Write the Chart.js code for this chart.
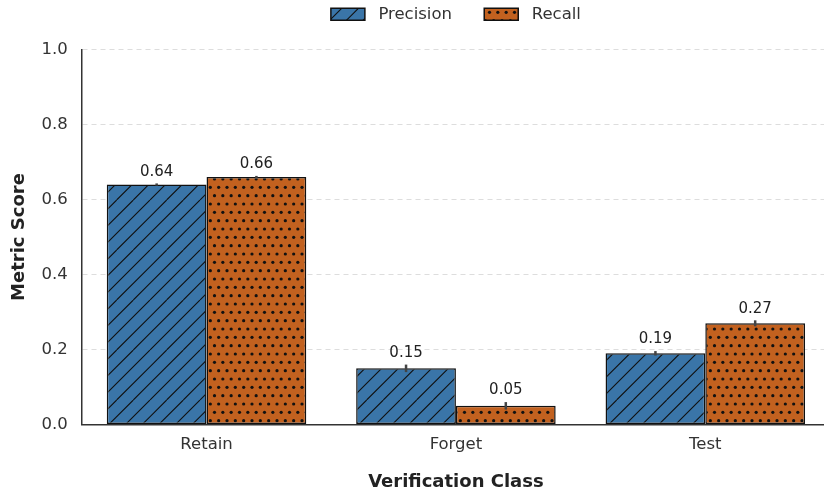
<!DOCTYPE html>
<html>
<head>
<meta charset="utf-8">
<script src="https://cdn.jsdelivr.net/npm/chart.js@4"></script>
<style>
  body { margin: 0; background: #fff; overflow: hidden; }
  #wrap { width: 824px; height: 493px; overflow: hidden; }
</style>
</head>
<body>
<div id="wrap"><canvas id="myChart" width="830" height="493"></canvas></div>
<script>
const categories = ['Retain', 'Forget', 'Test']
const precision = [0.64, 0.15, 0.19]
const recall = [0.66, 0.05, 0.27]
const precisionErr = [0.003, 0.01, 0.006]
const recallErr = [0.003, 0.01, 0.008]
const yTicks = [0, 0.2, 0.4, 0.6, 0.8, 1.0]

const font = "'DejaVu Sans', sans-serif"

// hatch patterns, like matplotlib '/' and '..'
function hatchLines(color) {
    const c = document.createElement('canvas')
    c.width = 50
    c.height = 50
    const ctx = c.getContext('2d')
    ctx.fillStyle = color
    ctx.fillRect(0, 0, 50, 50)
    ctx.strokeStyle = '#111'
    ctx.lineWidth = 1.1
    ctx.beginPath()
    for (let k = -1; k <= 6; k++) {
        const s = k * 50 / 3
        ctx.moveTo(s - 50, 50 + 0); ctx.lineTo(s + 0, 0)
        ctx.moveTo(s, 50); ctx.lineTo(s + 50, 0)
    }
    ctx.stroke()
    return ctx.createPattern(c, 'repeat')
}

function hatchDots(color) {
    const c = document.createElement('canvas')
    c.width = 50
    c.height = 50
    const ctx = c.getContext('2d')
    ctx.fillStyle = color
    ctx.fillRect(0, 0, 50, 50)
    ctx.fillStyle = '#111'
    const step = 50 / 6
    for (let r = 0; r < 6; r++) {
        const off = r % 2 === 0 ? 0 : step / 2
        for (let col = -1; col <= 6; col++) {
            ctx.beginPath()
            ctx.arc(col * step + off + 2, r * step + 4, 1.6, 0, Math.PI * 2)
            ctx.fill()
        }
    }
    return ctx.createPattern(c, 'repeat')
}

const blue = '#3a75a8'
const orange = '#c2611f'

const errorBars = {
    id: 'errorBars',
    beforeLayout(chart) {
        // extra room under the legend, the plot starts lower
        const legend = chart.legend
        if (legend && !legend._patched) {
            const fit = legend.fit.bind(legend)
            legend.fit = function () { fit(); this.height += 17 }
            legend._patched = true
        }
    },
    afterDatasetsDraw(chart) {
        const ctx = chart.ctx
        const y = chart.scales.y
        const errs = [precisionErr, recallErr]
        chart.data.datasets.forEach((ds, di) => {
            const meta = chart.getDatasetMeta(di)
            meta.data.forEach((bar, i) => {
                const v = ds.data[i]
                const e = errs[di][i]
                const top = y.getPixelForValue(v + e)
                const bot = y.getPixelForValue(v - e)
                ctx.save()
                ctx.strokeStyle = '#444'
                ctx.lineWidth = 2.5
                ctx.beginPath()
                ctx.moveTo(bar.x, top)
                ctx.lineTo(bar.x, bot)
                ctx.stroke()
                ctx.fillStyle = '#222'
                ctx.font = '15px ' + font
                ctx.textAlign = 'center'
                ctx.textBaseline = 'bottom'
                ctx.fillText(v.toFixed(2), bar.x, top - 4)
                ctx.restore()
            })
        })
    }
}

const config = {
    type: 'bar',
    data: {
        labels: categories,
        datasets: [{
            label: 'Precision',
            data: precision,
            backgroundColor: hatchLines(blue),
            borderColor: '#111',
            borderWidth: 1.5,
            borderSkipped: false
        }, {
            label: 'Recall',
            data: recall,
            backgroundColor: hatchDots(orange),
            borderColor: '#111',
            borderWidth: 1.5,
            borderSkipped: false
        }]
    },
    options: {
        responsive: false,
        animation: false,
        layout: { padding: { left: 9, right: 0, top: 0, bottom: 0 } },
        datasets: { bar: { categoryPercentage: 0.8, barPercentage: 1.0 } },
        plugins: {
            legend: {
                position: 'top',
                fullSize: false,
                labels: {
                    font: { family: font, size: 16.5 },
                    color: '#333',
                    boxWidth: 34,
                    boxHeight: 12,
                    padding: 6,
                    generateLabels: chart => {
                        const items = Chart.defaults.plugins.legend.labels.generateLabels(chart)
                        items.forEach((it, i) => {
                            it.lineWidth = 1.5
                            it.text = ' ' + it.text
                            if (i === 0) it.text = it.text + '     '
                        })
                        return items
                    }
                }
            },
            tooltip: { enabled: false }
        },
        scales: {
            x: {
                grid: { display: false, drawTicks: false },
                border: { display: true, color: '#333', width: 1.5 },
                ticks: { font: { family: font, size: 16.5 }, color: '#333', padding: 10 },
                title: {
                    display: true,
                    text: 'Verification Class',
                    font: { family: font, size: 18, weight: 'bold' },
                    color: '#222',
                    padding: { top: 7, bottom: 0 }
                }
            },
            y: {
                min: 0,
                max: 1,
                afterBuildTicks: axis => { axis.ticks = yTicks.map(v => ({ value: v })) },
                grid: { color: '#dddddd', lineWidth: 1, drawTicks: false },
                border: { display: true, color: '#333', width: 1.5, dash: [5, 4] },
                ticks: {
                    font: { family: font, size: 16.5 },
                    color: '#333',
                    padding: 14,
                    callback: v => v.toFixed(1)
                },
                title: {
                    display: true,
                    text: 'Metric Score',
                    font: { family: font, size: 18, weight: 'bold' },
                    color: '#222',
                    padding: { top: 0, bottom: -3 }
                }
            }
        }
    },
    plugins: [errorBars]
}

const myChart = new Chart(document.getElementById('myChart'), config)
</script>
</body>
</html>
